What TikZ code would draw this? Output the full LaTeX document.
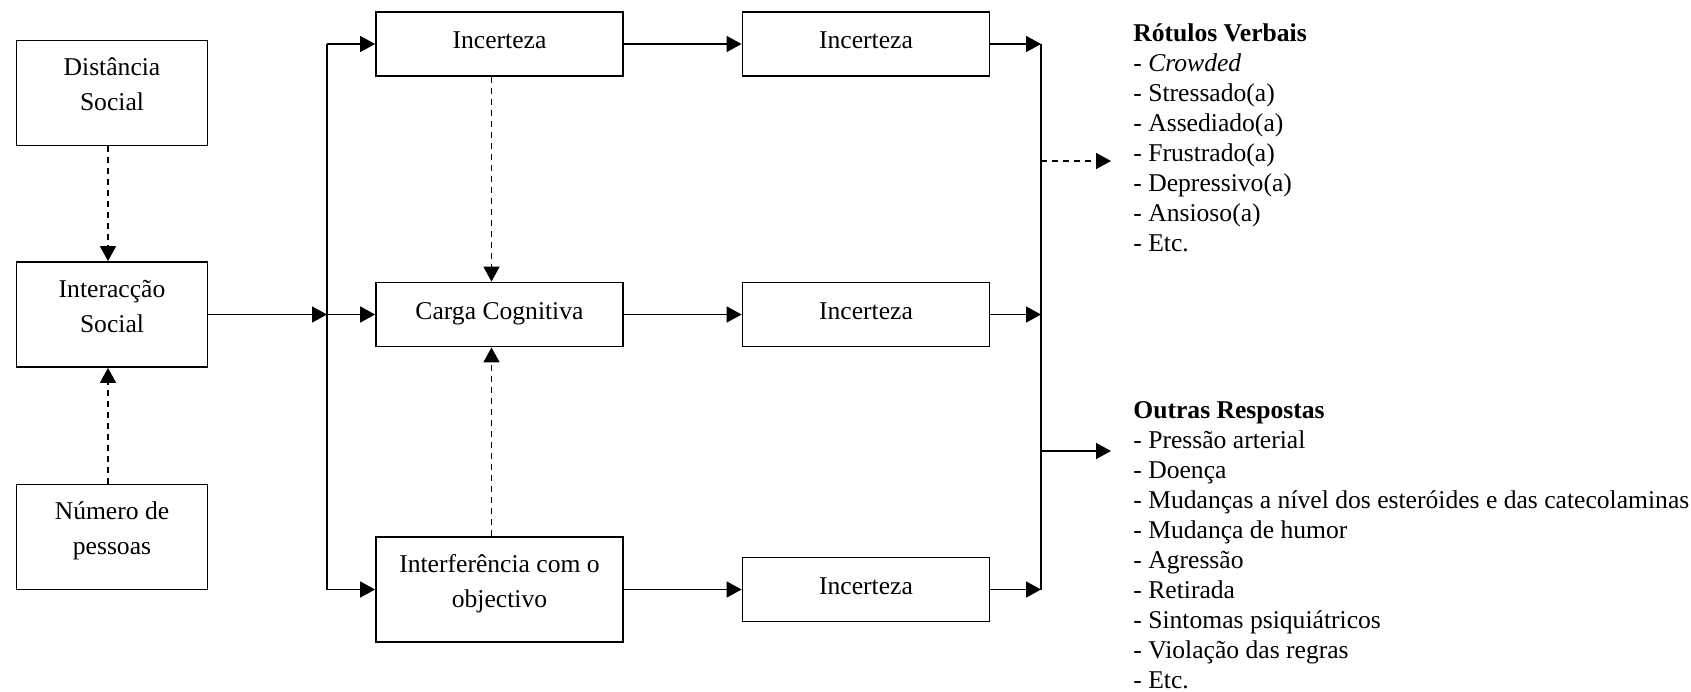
\documentclass[tikz,border=0pt]{standalone}
\usepackage{fontspec}
\setmainfont{Liberation Serif}
\usetikzlibrary{arrows.meta}
\newcommand{\widthfactor}{95.5pt}
\newcommand{\widthprocess}{123.5pt}
\newcommand{\heightlow}{32pt}
\newcommand{\heighthigh}{52.5pt}
\newcommand{\boxtxt}[2][7pt]{\begin{tabular}{@{}c@{}}#2\\[#1]\end{tabular}}
\tikzset{
    common/.style={draw, rectangle, line width=0.9pt, inner sep=0pt, font=\fontsize{12.8}{17.5}\selectfont},
    factor/.style={common, minimum width=\widthfactor, minimum height=\heighthigh},
    lowbox/.style={common, minimum width=\widthprocess, minimum height=\heightlow},
    highbox/.style={common, minimum width=\widthprocess, minimum height=\heighthigh},
    bus/.style={line width=0.8pt},
    arr/.style={line width=0.8pt, -{Triangle[length=7.5pt, width=8pt]}},
    dasharr/.style={arr, dash pattern=on 3pt off 2.5pt},
    answers/.style={anchor=north west, align=left, inner sep=0pt, font=\fontsize{12.8}{15}\selectfont}
}

\begin{document}
\begin{tikzpicture}[x=0.5pt, y=-0.5pt]
    \useasboundingbox (0,0) rectangle (1691,691);
    % antecedentes
    \node[factor] (dist) at (112,93) {\boxtxt{Distância\\Social}};
    \node[factor] (inter) at (112,314.5) {\boxtxt{Interacção\\Social}};
    \node[factor] (num) at (112,537) {\boxtxt{Número de\\pessoas}};
    % processos
    \node[lowbox] (incA) at (499.5,44) {\boxtxt[2.5pt]{Incerteza}};
    \node[lowbox] (carga) at (499.5,314.5) {\boxtxt[2.5pt]{Carga Cognitiva}};
    \node[highbox] (interf) at (499.5,589.5) {\boxtxt{Interferência com o\\objectivo}};
    \node[lowbox] (incB) at (866,44) {\boxtxt[2.5pt]{Incerteza}};
    \node[lowbox] (incC) at (866,314.5) {\boxtxt[2.5pt]{Incerteza}};
    \node[lowbox] (incD) at (866,589.5) {\boxtxt[2.5pt]{Incerteza}};
    % respostas
    \node[answers] (verbais) at (1133,23) {\textbf{Rótulos Verbais}\\- \textit{Crowded}\\- Stressado(a)\\- Assediado(a)\\- Frustrado(a)\\- Depressivo(a)\\- Ansioso(a)\\- Etc.};
    \node[answers] (outras) at (1133,401) {\textbf{Outras Respostas}\\- Pressão arterial\\- Doença\\- Mudanças a nível dos esteróides e das catecolaminas\\- Mudança de humor\\- Agressão\\- Retirada\\- Sintomas psiquiátricos\\- Violação das regras\\- Etc.};
    \coordinate (busA) at (327,0);
    \coordinate (busB) at (1041,0);
    \coordinate (toverbais) at (1111,161);
    \coordinate (tooutras) at (1111,451);

    \draw[dasharr] ([xshift=-2pt]dist.south) -- ([xshift=-2pt]inter.north);
    \draw[dasharr] ([xshift=-2pt]num.north) -- ([xshift=-2pt]inter.south);
    \draw[dasharr] ([xshift=-4pt]incA.south) -- ([xshift=-4pt]carga.north);
    \draw[dasharr] ([xshift=-4pt]interf.north) -- ([xshift=-4pt]carga.south);

    \draw[arr] (inter.east) -- (inter.east -| busA);
    \draw[bus] (incA.west -| busA) -- (interf.west -| busA);
    \foreach \n in {incA, carga, interf}
        \draw[arr] (\n.west -| busA) -- (\n.west);

    \draw[arr] (incA) -- (incB);
    \draw[arr] (carga) -- (incC);
    \draw[arr] (interf) -- (incD);

    \foreach \n in {incB, incC, incD}
        \draw[arr] (\n.east) -- (\n.east -| busB);
    \draw[bus] (incB.east -| busB) -- (incD.east -| busB);
    \draw[dasharr] (toverbais -| busB) -- (toverbais);
    \draw[arr] (tooutras -| busB) -- (tooutras);
\end{tikzpicture}
\end{document}
